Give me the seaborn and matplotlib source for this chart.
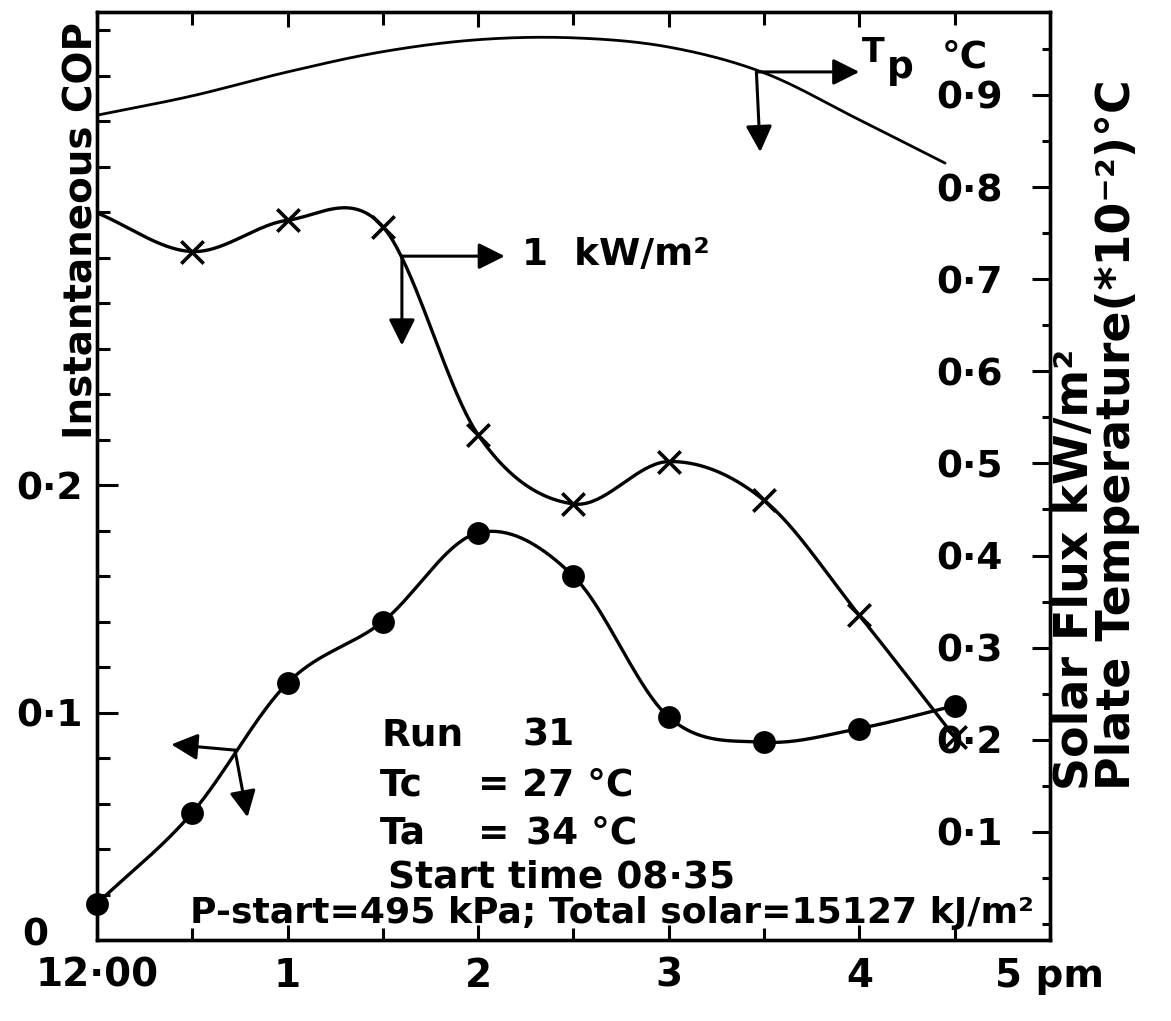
import numpy as np
import pandas as pd
import matplotlib
matplotlib.use("Agg")
import matplotlib.pyplot as plt
import seaborn as sns
from matplotlib.ticker import MultipleLocator
from matplotlib.transforms import ScaledTranslation

# ---------------- data (hours after 12:00 noon) ----------------
hours = [0.0, 0.5, 1.0, 1.5, 2.0, 2.5, 3.0, 3.5, 4.0, 4.5]
cop = [0.016, 0.056, 0.113, 0.140, 0.179, 0.160, 0.098, 0.087, 0.093, 0.103]
solar_flux = [0.772, 0.730, 0.764, 0.757, 0.531, 0.456, 0.502, 0.460, 0.335, 0.203]
tp_hours = [0.0, 0.5, 1.0, 1.5, 2.0, 2.5, 3.0, 3.5, 4.0, 4.45]
plate_temp = [0.878, 0.899, 0.925, 0.947, 0.960, 0.962, 0.952, 0.924, 0.873, 0.826]

x_tick_pos = [0, 1, 2, 3, 4, 5]
x_tick_labels = ["12·00", "1", "2", "3", "4", "5 pm"]
left_ticks = [0.0, 0.1, 0.2]
left_tick_labels = ["0", "0·1", "0·2"]
right_ticks = [0.1, 0.2, 0.3, 0.4, 0.5, 0.6, 0.7, 0.8, 0.9]
right_tick_labels = ["0·1", "0·2", "0·3", "0·4", "0·5", "0·6", "0·7", "0·8", "0·9"]


def smooth_curve(x, y, n=40):
    """Catmull-Rom style cubic Hermite curve through the given points."""
    x = np.asarray(x, float)
    y = np.asarray(y, float)
    xs, ys = [], []
    last = len(x) - 2
    for i in range(len(x) - 1):
        h = x[i + 1] - x[i]
        m0 = (y[1] - y[0]) / (x[1] - x[0]) if i == 0 else (y[i + 1] - y[i - 1]) / (x[i + 1] - x[i - 1])
        m1 = (y[-1] - y[-2]) / (x[-1] - x[-2]) if i == last else (y[i + 2] - y[i]) / (x[i + 2] - x[i])
        t = np.linspace(0, 1, n, endpoint=(i == last))
        h00 = 2 * t**3 - 3 * t**2 + 1
        h10 = t**3 - 2 * t**2 + t
        h01 = -2 * t**3 + 3 * t**2
        h11 = t**3 - t**2
        ys.append(h00 * y[i] + h10 * h * m0 + h01 * y[i + 1] + h11 * h * m1)
        xs.append(x[i] + t * h)
    return np.concatenate(xs), np.concatenate(ys)


sns.set_theme(style="ticks")
plt.rcParams["font.family"] = ["DejaVu Sans"]
plt.rcParams["font.weight"] = "bold"
plt.rcParams["axes.labelweight"] = "bold"
plt.rcParams["axes.labelcolor"] = "black"
plt.rcParams["axes.linewidth"] = 2.4
plt.rcParams["axes.edgecolor"] = "black"
plt.rcParams["text.color"] = "black"
plt.rcParams["xtick.color"] = "black"
plt.rcParams["ytick.color"] = "black"

fig = plt.figure(figsize=(11.71, 10.21), dpi=100)
ax = fig.add_axes([0.0828, 0.0793, 0.8138, 0.9089])
ax2 = ax.twinx()

# COP curve (left axis)
cx, cy = smooth_curve(hours, cop)
sns.lineplot(x=cx, y=cy, ax=ax, color="black", lw=2.4, estimator=None, sort=False)
sns.scatterplot(x=hours, y=cop, ax=ax, color="black", s=270, marker="o",
                edgecolor="black", linewidth=0, clip_on=False, zorder=5)

# Solar flux curve (right axis)
fx, fy = smooth_curve(hours, solar_flux)
sns.lineplot(x=fx, y=fy, ax=ax2, color="black", lw=2.4, estimator=None, sort=False)
sns.scatterplot(x=hours[1:], y=solar_flux[1:], ax=ax2, color="black", s=260,
                marker="x", linewidth=2.6, zorder=5)

# Plate temperature curve (right axis)
tx, ty = smooth_curve(tp_hours, plate_temp)
sns.lineplot(x=tx, y=ty, ax=ax2, color="black", lw=2.0, estimator=None, sort=False)

# ---------------- axes ----------------
ax.set_xlim(0, 5)
ax.set_ylim(0, 0.408)
ax2.set_ylim(-0.0174, 0.990)

ax.set_xticks(x_tick_pos, x_tick_labels)
ax.xaxis.set_minor_locator(MultipleLocator(0.5))
ax.set_yticks(left_ticks, left_tick_labels)
ax.yaxis.set_minor_locator(MultipleLocator(0.02))
ax2.set_yticks(right_ticks, right_tick_labels, ha="right")
ax2.yaxis.set_minor_locator(MultipleLocator(0.05))

ax.tick_params(axis="x", which="both", direction="in", top=True, bottom=True,
               width=2.2, labelsize=28, pad=12)
ax.tick_params(axis="x", which="major", length=11)
ax.tick_params(axis="x", which="minor", length=9)
ax.tick_params(axis="y", which="both", direction="in", left=True, right=False,
               width=2.2, labelsize=27, pad=10)
ax.tick_params(axis="y", which="major", length=15)
ax.tick_params(axis="y", which="minor", length=9)
ax2.tick_params(axis="y", which="both", direction="in", right=True, left=False,
                width=2.2, labelsize=27, pad=-34)
ax2.tick_params(axis="y", which="major", length=13)
ax2.tick_params(axis="y", which="minor", length=6)

# the "0" of the COP axis sits a little left of and above its tick
zero_lab = ax.yaxis.get_major_ticks()[0].label1
zero_lab.set_transform(zero_lab.get_transform()
                       + ScaledTranslation(-25 / 72, 6 / 72, fig.dpi_scale_trans))

for a in (ax, ax2):
    for s in a.spines.values():
        s.set_visible(True)
        s.set_linewidth(2.4)
        s.set_color("black")

ax.set_xlabel("")
ax.set_ylabel("Instantaneous COP", fontsize=28, labelpad=0)
ax.yaxis.set_label_coords(0.004, 0.765)
ax2.set_ylabel("Solar Flux kW/m²\nPlate Temperature(*10⁻²)°C", fontsize=33,
               rotation=90, ha="left", multialignment="left", linespacing=0.92)
ax2.yaxis.set_label_coords(1.003, 0.162)

# ---------------- annotations ----------------
arrow_kw = dict(arrowstyle="-|>", color="black", lw=2.2, mutation_scale=40,
                shrinkA=0, shrinkB=0)
# Plate temperature pointer
ax2.annotate("", xy=(4.0, 0.925), xytext=(3.46, 0.925), arrowprops=arrow_kw)
ax2.annotate("", xy=(3.48, 0.838), xytext=(3.46, 0.925), arrowprops=arrow_kw)
ax.text(0.803, 0.946, "T", transform=ax.transAxes, fontsize=24, va="baseline")
ax.text(0.829, 0.929, "p", transform=ax.transAxes, fontsize=27, va="baseline")
ax.text(0.886, 0.940, "°C", transform=ax.transAxes, fontsize=27, va="baseline")
# Solar flux pointer
ax2.annotate("", xy=(2.14, 0.725), xytext=(1.60, 0.725), arrowprops=arrow_kw)
ax2.annotate("", xy=(1.60, 0.628), xytext=(1.60, 0.725), arrowprops=arrow_kw)
ax.text(0.446, 0.727, "1  kW/m²", transform=ax.transAxes, fontsize=27, va="baseline")
# COP pointer
ax.annotate("", xy=(0.39, 0.086), xytext=(0.724, 0.0835), arrowprops=arrow_kw)
ax.annotate("", xy=(0.79, 0.054), xytext=(0.724, 0.0835), arrowprops=arrow_kw)

# Run information block
ax.text(0.299, 0.210, "Run", transform=ax.transAxes, fontsize=27, va="baseline")
ax.text(0.446, 0.210, "31", transform=ax.transAxes, fontsize=27, va="baseline")
ax.text(0.297, 0.156, "Tc", transform=ax.transAxes, fontsize=27, va="baseline")
ax.text(0.400, 0.156, "=", transform=ax.transAxes, fontsize=27, va="baseline")
ax.text(0.446, 0.156, "27 °C", transform=ax.transAxes, fontsize=27, va="baseline")
ax.text(0.297, 0.104, "Ta", transform=ax.transAxes, fontsize=27, va="baseline")
ax.text(0.400, 0.104, "=", transform=ax.transAxes, fontsize=27, va="baseline")
ax.text(0.450, 0.104, "34 °C", transform=ax.transAxes, fontsize=27, va="baseline")
ax.text(0.305, 0.057, "Start time 08·35", transform=ax.transAxes, fontsize=27, va="baseline")
ax.text(0.098, 0.018, "P-start=495 kPa; Total solar=15127 kJ/m²", transform=ax.transAxes,
        fontsize=26, va="baseline")

fig.savefig("out.png", dpi=100, facecolor="white")
